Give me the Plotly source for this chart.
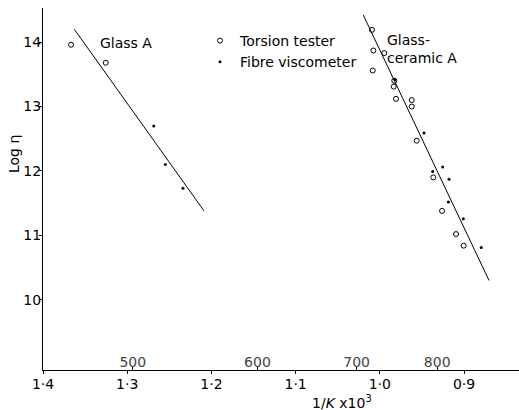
import plotly.graph_objects as go

FONT = "DejaVu Sans"

# Glass A data
glass_torsion_x = [1.3667, 1.3255]
glass_torsion_y = [13.96, 13.68]
glass_fibre_x = [1.2685, 1.2547, 1.2337]
glass_fibre_y = [12.70, 12.10, 11.73]
glass_line_x = [1.3628, 1.2088]
glass_line_y = [14.20, 11.38]

# Glass-ceramic A data
gc_torsion_x = [1.0093, 1.0077, 0.9947, 1.0084, 0.9828, 0.9835, 0.9808, 0.9621, 0.9621,
                0.9562, 0.9365, 0.9261, 0.9095, 0.9004]
gc_torsion_y = [14.19, 13.87, 13.83, 13.56, 13.40, 13.31, 13.12, 13.10, 13.00,
                12.47, 11.90, 11.38, 11.02, 10.84]
gc_fibre_x = [0.9820, 0.9475, 0.9253, 0.9372, 0.9178, 0.9186, 0.9008, 0.8795]
gc_fibre_y = [13.42, 12.59, 12.06, 11.99, 11.87, 11.52, 11.26, 10.81]
gc_line_x = [1.0196, 0.8703]
gc_line_y = [14.42, 10.30]

x_tick_vals = [1.4, 1.3, 1.2, 1.1, 1.0, 0.9]
x_tick_text = ["1·4", "1·3", "1·2", "1·1", "1·0", "0·9"]
y_tick_vals = [10, 11, 12, 13, 14]
temps_c = [500, 600, 700, 800]
temp_tick_vals = [1000.0 / (t + 273.15) for t in temps_c]
temp_tick_text = [str(t) for t in temps_c]

X_RANGE = [1.4, 0.8347]
Y_RANGE = [8.91, 14.53]

fig = go.Figure()

circ = dict(symbol="circle-open", size=5, color="black", line=dict(width=1, color="black"))
dot = dict(symbol="circle", size=3, color="black")

fig.add_trace(go.Scatter(x=glass_line_x, y=glass_line_y, mode="lines",
                         line=dict(color="black", width=1), showlegend=False))
fig.add_trace(go.Scatter(x=gc_line_x, y=gc_line_y, mode="lines",
                         line=dict(color="black", width=1), showlegend=False))
fig.add_trace(go.Scatter(x=glass_torsion_x + gc_torsion_x, y=glass_torsion_y + gc_torsion_y,
                         mode="markers", marker=circ, name="Torsion tester"))
fig.add_trace(go.Scatter(x=glass_fibre_x + gc_fibre_x, y=glass_fibre_y + gc_fibre_y,
                         mode="markers", marker=dot, name="Fibre viscometer"))
# invisible trace to activate temperature axis
fig.add_trace(go.Scatter(x=[temp_tick_vals[0]], y=[Y_RANGE[0]], xaxis="x2", mode="markers",
                         marker=dict(opacity=0), showlegend=False, hoverinfo="skip"))

fig.update_layout(
    width=519, height=410,
    margin=dict(l=43, r=0, t=8, b=40),
    paper_bgcolor="white", plot_bgcolor="white",
    font=dict(family=FONT, size=14, color="black"),
    showlegend=True,
    legend=dict(x=(220 - 43 - 20) / 476, y=(370 - 25) / 362, xanchor="left", yanchor="top",
                bgcolor="rgba(0,0,0,0)", font=dict(size=14), tracegroupgap=0,
                itemwidth=30),
    xaxis=dict(range=X_RANGE, tickvals=x_tick_vals, ticktext=x_tick_text,
               showline=True, linecolor="black", linewidth=1, ticks="outside",
               ticklen=3, tickcolor="black", showgrid=False, zeroline=False,
               ticklabelstandoff=-2, tickfont=dict(size=14)),
    xaxis2=dict(range=X_RANGE, overlaying="x", anchor="y", side="bottom",
                tickvals=temp_tick_vals, ticktext=temp_tick_text,
                ticks="inside", ticklen=3, tickcolor="black",
                ticklabelposition="inside", ticklabelstandoff=-3,
                showline=False, showgrid=False,
                zeroline=False, tickfont=dict(size=14)),
    yaxis=dict(range=Y_RANGE, tickvals=y_tick_vals,
               showline=True, linecolor="black", linewidth=1, ticks="outside",
               ticklen=3, tickcolor="black", showgrid=False, zeroline=False,
               ticklabelstandoff=-5, tickfont=dict(size=14)),
    annotations=[
        dict(text="Glass A", x=1.301, y=13.99, xref="x", yref="y", showarrow=False,
             font=dict(size=14)),
        dict(text="Glass-<br>ceramic A", x=0.9935, y=13.89, xref="x", yref="y",
             showarrow=False, align="left", xanchor="left", font=dict(size=14)),
        dict(text="1/<i>K</i> x10<sup>3</sup>", x=(342 - 43) / 476, y=-(391 - 370) / 362,
             xref="paper", yref="paper", yanchor="top", xanchor="center", showarrow=False,
             font=dict(size=14)),
        dict(text="Log η", x=-(43 - 14) / 476, y=(370 - 154) / 362, xref="paper",
             yref="paper", xanchor="center", yanchor="middle", showarrow=False,
             textangle=-90, font=dict(size=14)),
    ],
)

fig.write_html("out.html")
